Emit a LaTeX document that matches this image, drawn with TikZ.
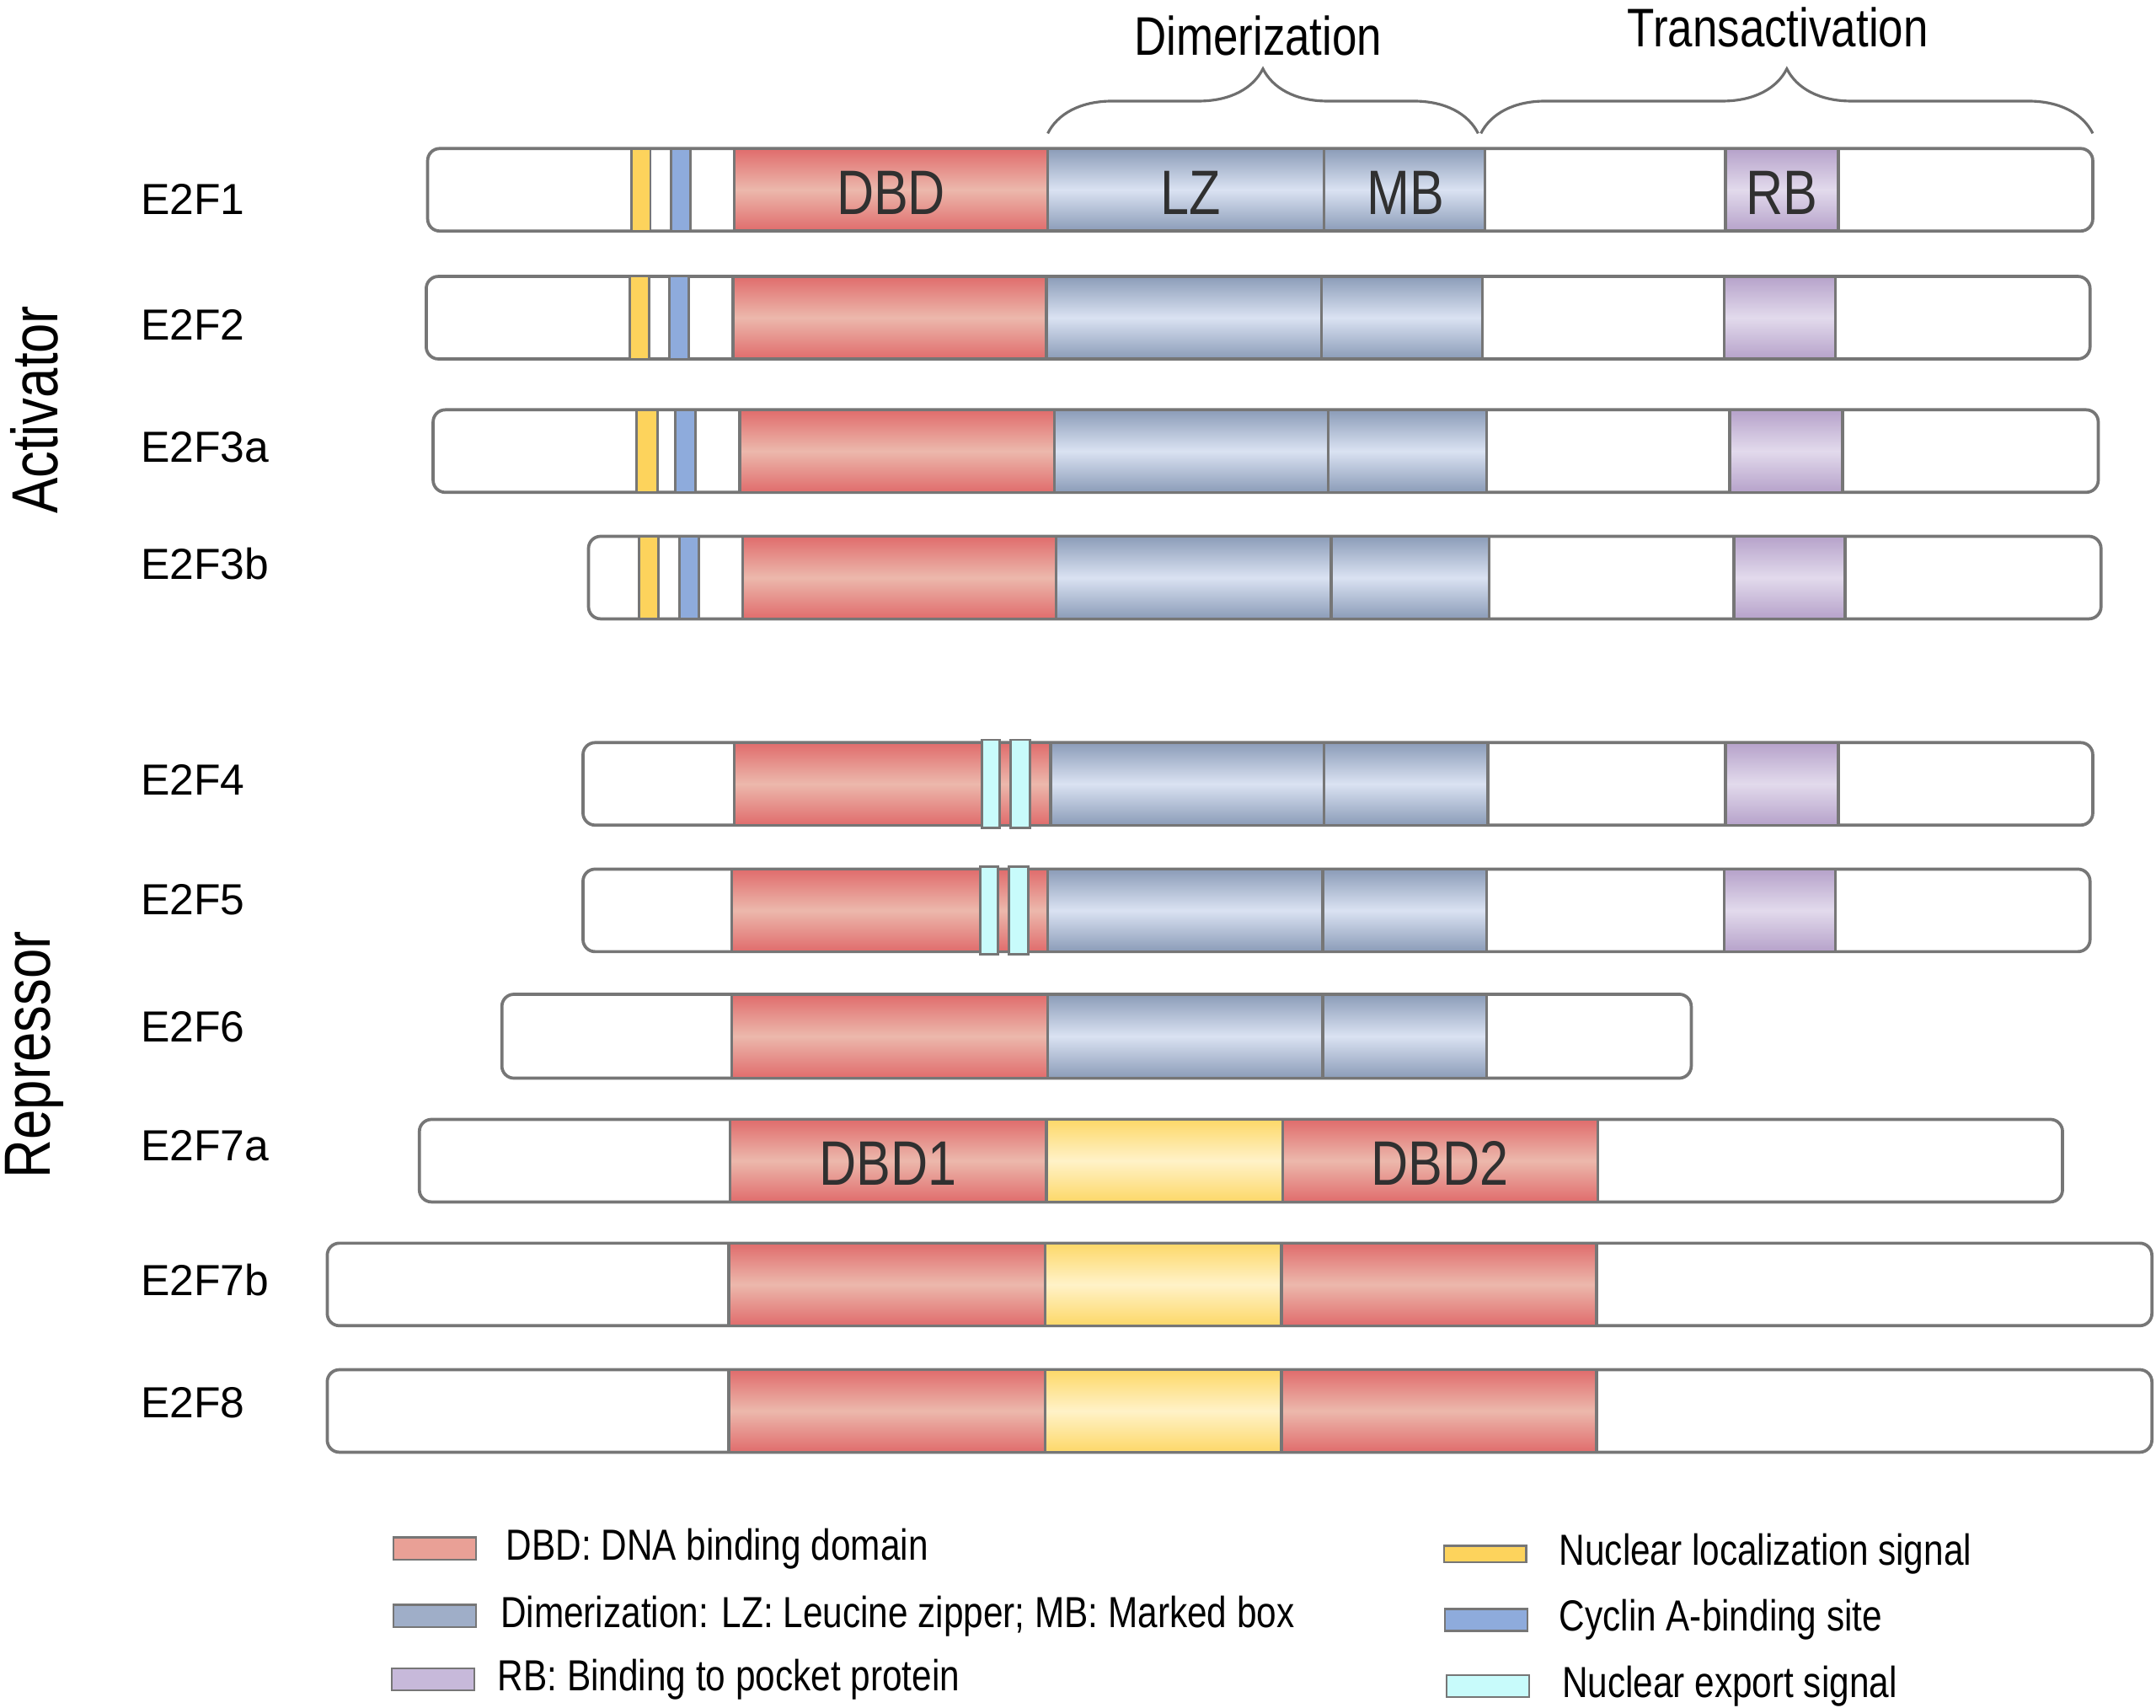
\documentclass[tikz,border=0pt]{standalone}
\usepackage{fontspec}
\setmainfont{Liberation Sans}
\newfontfamily\narrowsf[FakeStretch=0.82]{Liberation Sans}
\usetikzlibrary{positioning, decorations.pathreplacing}

\definecolor{barline}{HTML}{767676}
\definecolor{braceline}{HTML}{6E6E6E}
\definecolor{labeltext}{HTML}{303030}
\definecolor{dbdDark}{HTML}{E06C6C}
\definecolor{dbdLight}{HTML}{ECB8AC}
\definecolor{dimDark}{HTML}{8B9CB8}
\definecolor{dimLight}{HTML}{DAE2F2}
\definecolor{rbDark}{HTML}{B6A2CA}
\definecolor{rbLight}{HTML}{E2DAEC}
\definecolor{yelDark}{HTML}{FDD868}
\definecolor{yelLight}{HTML}{FFF2C8}
\definecolor{nlsYellow}{HTML}{FDD35C}
\definecolor{cycBlue}{HTML}{8EABDC}
\definecolor{nesCyan}{HTML}{C8FBFB}
\definecolor{dbdSw}{HTML}{E9A096}
\definecolor{dimSw}{HTML}{9FAEC8}
\definecolor{rbSw}{HTML}{C7B9DA}

\tikzset{
x=0.02cm, y=-0.02cm, % one unit is one pixel of the figure, y goes down
bar/.style={draw=barline, line width=1.3pt, fill=white, rounded corners=5pt}, % the whole protein
dbd/.style={draw=barline, line width=1.2pt, top color=dbdDark, bottom color=dbdDark, middle color=dbdLight},
dimer/.style={draw=barline, line width=1.2pt, top color=dimDark, bottom color=dimDark, middle color=dimLight},
rbd/.style={draw=barline, line width=1.2pt, top color=rbDark, bottom color=rbDark, middle color=rbLight},
linker/.style={draw=barline, line width=1.2pt, top color=yelDark, bottom color=yelDark, middle color=yelLight},
nls/.style={draw=barline, line width=1pt, fill=nlsYellow}, % nuclear localization signal
cyc/.style={draw=barline, line width=1pt, fill=cycBlue}, % cyclin A-binding site
nes/.style={draw=barline, line width=1pt, fill=nesCyan}, % nuclear export signal
brace/.style={decorate, decoration={brace, amplitude=0.94cm}, draw=braceline, line width=1.1pt},
rowlabel/.style={anchor=west, inner sep=0pt, font=\fontsize{18}{21}\selectfont},
domlabel/.style={inner sep=0pt, text=labeltext, font=\narrowsf\fontsize{26}{30}\selectfont},
toplabel/.style={inner sep=0pt, font=\narrowsf\fontsize{22.5}{26}\selectfont},
grouplabel/.style={inner sep=0pt, rotate=90, font=\narrowsf\fontsize{27}{30}\selectfont},
swatch/.style={draw=barline, line width=0.8pt, minimum width=1.2cm, minimum height=0.32cm, inner sep=0pt},
legtext/.style={inner sep=0pt, font=\narrowsf\fontsize{18}{21}\selectfont},
}

% style, left x, right x, top y of a 60 px high domain
\newcommand{\domainbox}[4]{\draw[#1] (#2,#4) rectangle (#3,#4+60);}

\begin{document}
\begin{tikzpicture}
    \useasboundingbox (0,0) rectangle (1568,1242);

    % group labels
    \node[grouplabel] (act) at (25,298) {Activator};
    \node[grouplabel] (rep) at (25,767) {Repressor};

    % E2F1
    \node[rowlabel] (e2f1) at (102,145) {E2F1};
    \draw[bar] (311,108) rectangle (1522,168);
    \domainbox{nls}{459}{473}{108}
    \domainbox{cyc}{488}{502}{108}
    \domainbox{dbd}{534}{762}{108}
    \domainbox{dimer}{762}{963}{108}
    \domainbox{dimer}{963}{1080}{108}
    \domainbox{rbd}{1255}{1337}{108}
    \node[domlabel] (dbdA) at (648,140) {DBD};
    \node[domlabel] (lzA) at (866,140) {LZ};
    \node[domlabel] (mbA) at (1022,140) {MB};
    \node[domlabel] (rbA) at (1296,140) {RB};

    % E2F2
    \node[rowlabel] (e2f2) at (102,236) {E2F2};
    \draw[bar] (310,201) rectangle (1520,261);
    \domainbox{nls}{458}{472}{201}
    \domainbox{cyc}{487}{501}{201}
    \domainbox{dbd}{533}{761}{201}
    \domainbox{dimer}{761}{961}{201}
    \domainbox{dimer}{961}{1078}{201}
    \domainbox{rbd}{1254}{1335}{201}

    % E2F3a
    \node[rowlabel] (e2f3a) at (102,325) {E2F3a};
    \draw[bar] (315,298) rectangle (1526,358);
    \domainbox{nls}{463}{478}{298}
    \domainbox{cyc}{491}{506}{298}
    \domainbox{dbd}{538}{767}{298}
    \domainbox{dimer}{767}{966}{298}
    \domainbox{dimer}{966}{1081}{298}
    \domainbox{rbd}{1258}{1340}{298}

    % E2F3b
    \node[rowlabel] (e2f3b) at (102,410) {E2F3b};
    \draw[bar] (428,390) rectangle (1528,450);
    \domainbox{nls}{465}{479}{390}
    \domainbox{cyc}{494}{508}{390}
    \domainbox{dbd}{540}{768}{390}
    \domainbox{dimer}{768}{968}{390}
    \domainbox{dimer}{968}{1083}{390}
    \domainbox{rbd}{1261}{1342}{390}

    % E2F4
    \node[rowlabel] (e2f4) at (102,567) {E2F4};
    \draw[bar] (424,540) rectangle (1522,600);
    \domainbox{dbd}{534}{764}{540}
    \draw[nes] (714,538) rectangle (727,602);
    \draw[nes] (735,538) rectangle (749,602);
    \domainbox{dimer}{764}{963}{540}
    \domainbox{dimer}{963}{1082}{540}
    \domainbox{rbd}{1255}{1337}{540}

    % E2F5
    \node[rowlabel] (e2f5) at (102,654) {E2F5};
    \draw[bar] (424,632) rectangle (1520,692);
    \domainbox{dbd}{532}{762}{632}
    \draw[nes] (713,630) rectangle (726,694);
    \draw[nes] (734,630) rectangle (748,694);
    \domainbox{dimer}{762}{962}{632}
    \domainbox{dimer}{962}{1081}{632}
    \domainbox{rbd}{1254}{1335}{632}

    % E2F6
    \node[rowlabel] (e2f6) at (102,747) {E2F6};
    \draw[bar] (365,723) rectangle (1230,784);
    \draw[dbd] (532,723) rectangle (762,784);
    \draw[dimer] (762,723) rectangle (962,784);
    \draw[dimer] (962,723) rectangle (1081,784);

    % E2F7a
    \node[rowlabel] (e2f7a) at (102,833) {E2F7a};
    \draw[bar] (305,814) rectangle (1500,874);
    \domainbox{dbd}{531}{761}{814}
    \domainbox{linker}{761}{933}{814}
    \domainbox{dbd}{933}{1162}{814}
    \node[domlabel] (dbdB) at (646,846) {DBD1};
    \node[domlabel] (dbdC) at (1047,846) {DBD2};

    % E2F7b
    \node[rowlabel] (e2f7b) at (102,931) {E2F7b};
    \draw[bar] (238,904) rectangle (1565,964);
    \domainbox{dbd}{530}{760}{904}
    \domainbox{linker}{760}{932}{904}
    \domainbox{dbd}{932}{1161}{904}

    % E2F8
    \node[rowlabel] (e2f8) at (102,1020) {E2F8};
    \draw[bar] (238,996) rectangle (1565,1056);
    \domainbox{dbd}{530}{760}{996}
    \domainbox{linker}{760}{932}{996}
    \domainbox{dbd}{932}{1161}{996}

    % braces on top
    \coordinate (dimL) at (762,97);
    \coordinate (dimR) at (1075,97);
    \coordinate (traL) at (1077,97);
    \coordinate (traR) at (1522,97);
    \draw[brace] (dimL) -- (dimR);
    \draw[brace] (traL) -- (traR);
    \node[toplabel] (dimtxt) at (915,26) {Dimerization};
    \node[toplabel] (tratxt) at (1293,20) {Transactivation};

    % legend
    \node[swatch, fill=dbdSw] (swDBD) at (316,1126) {};
    \node[legtext, right=0.42cm of swDBD] (txDBD) {DBD: DNA binding domain};
    \node[swatch, fill=dimSw] (swDim) at (316,1175) {};
    \node[legtext, right=0.34cm of swDim] (txDim) {Dimerization: LZ: Leucine zipper; MB: Marked box};
    \node[swatch, fill=rbSw] (swRB) at (315,1221) {};
    \node[legtext, right=0.32cm of swRB] (txRB) {RB: Binding to pocket protein};
    \node[swatch, fill=nlsYellow, minimum height=0.24cm] (swNLS) at (1080,1130) {};
    \node[legtext, right=0.46cm of swNLS] (txNLS) {Nuclear localization signal};
    \node[swatch, fill=cycBlue] (swCyc) at (1081,1178) {};
    \node[legtext, right=0.44cm of swCyc] (txCyc) {Cyclin A-binding site};
    \node[swatch, fill=nesCyan] (swNES) at (1082,1226) {};
    \node[legtext, right=0.46cm of swNES] (txNES) {Nuclear export signal};
\end{tikzpicture}
\end{document}
